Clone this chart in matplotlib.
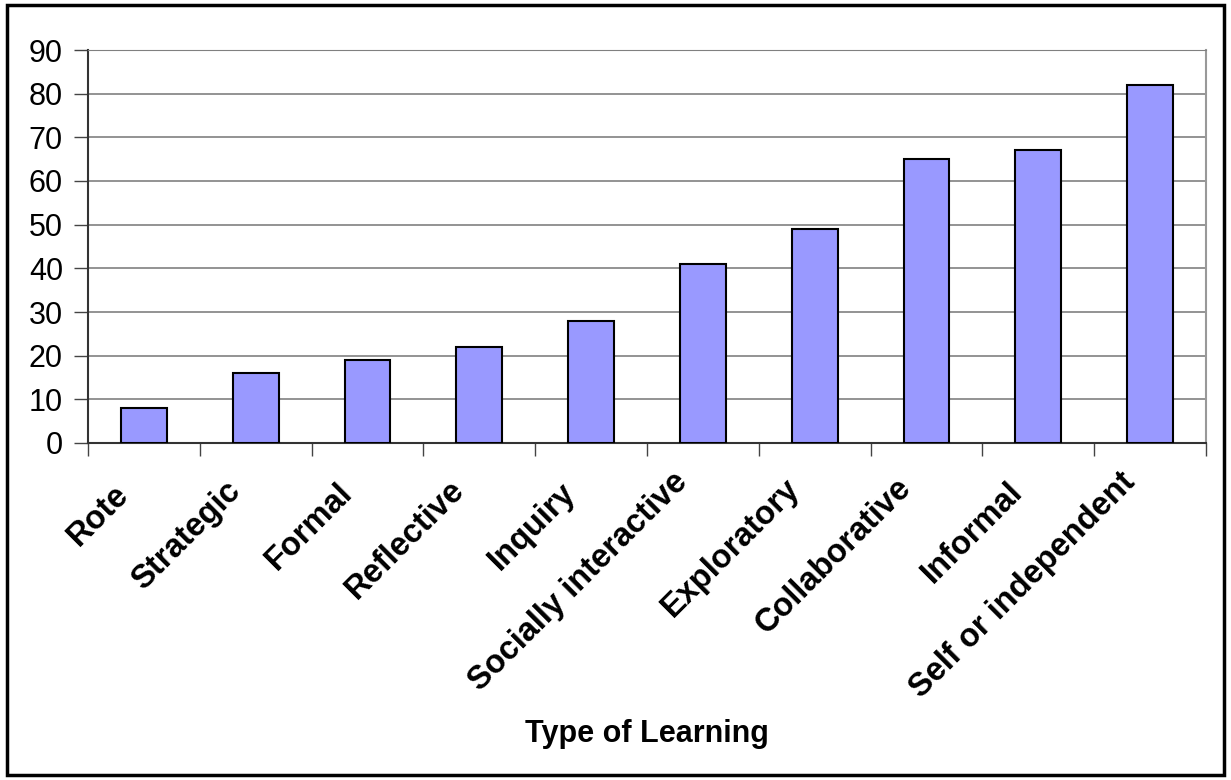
import matplotlib
matplotlib.use("Agg")
import matplotlib.pyplot as plt
import matplotlib.transforms as mtransforms
from matplotlib.patches import Rectangle
import numpy as np

# data
categories = ["Rote", "Strategic", "Formal", "Reflective", "Inquiry",
              "Socially interactive", "Exploratory", "Collaborative",
              "Informal", "Self or independent"]
values = [8, 16, 19, 22, 28, 41, 49, 65, 67, 82]
y_ticks = [0, 10, 20, 30, 40, 50, 60, 70, 80, 90]

plt.rcParams["font.family"] = "Liberation Sans"

fig = plt.figure(figsize=(12.31, 7.80), dpi=100)
ax = fig.add_axes([88/1231, 1 - 443/780, (1206 - 88)/1231, (443 - 50)/780])

x = np.arange(len(categories))
ax.bar(x, values, width=0.41, color="#9999ff", edgecolor="black", linewidth=1.5, zorder=3)

ax.set_xlim(-0.5, len(categories) - 0.5)
ax.set_ylim(0, 90)
ax.set_yticks(y_ticks)
ax.tick_params(axis="y", labelsize=22, length=10, width=1, color="#444444", pad=8)
ax.yaxis.grid(True, color="#808080", linewidth=1.2, zorder=0)

ax.set_xticks(x)
ax.set_xticklabels(categories, rotation=45, ha="right", va="center",
                   rotation_mode="anchor", fontsize=23.5, fontweight="bold")
ax.tick_params(axis="x", length=0, pad=34)
ax.set_xticks(np.arange(len(categories) + 1) - 0.5, minor=True)
ax.tick_params(axis="x", which="minor", length=9, width=1, color="#444444")

# long labels sit a little higher in the original, like excel does it
fig.canvas.draw()
labels = ax.get_xticklabels()
w0 = min(lab.get_window_extent().width for lab in labels)
for lab in labels:
    dy = (lab.get_window_extent().width - w0) * 0.08
    shift = mtransforms.ScaledTranslation(-20/100, dy/100, fig.dpi_scale_trans)
    lab.set_transform(lab.get_transform() + shift)

for side in ["left", "bottom"]:
    ax.spines[side].set_color("#333333")
    ax.spines[side].set_linewidth(1.5)
ax.spines["top"].set_color("#808080")
ax.spines["right"].set_color("#999999")
ax.spines["right"].set_linewidth(1.5)

fig.text(647/1231, 1 - 742/780, "Type of Learning", ha="center", va="baseline",
         fontsize=22, fontweight="bold")

fig.patches.append(Rectangle((7/1231, 5/780), (1224 - 7)/1231, (775 - 5)/780,
                             transform=fig.transFigure, fill=False,
                             edgecolor="black", linewidth=2.5))

fig.savefig("out.png", dpi=100)
